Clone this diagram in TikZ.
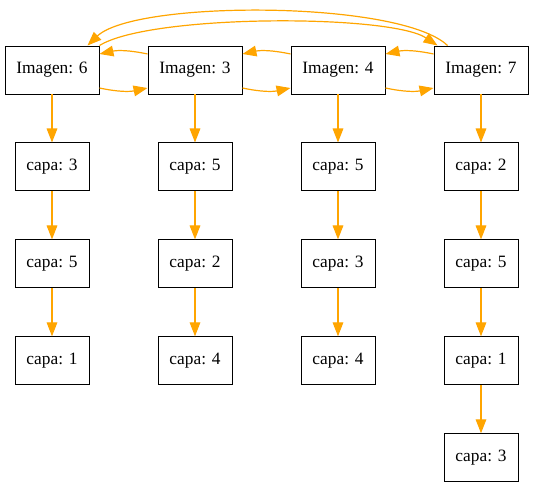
\documentclass[tikz,border=0pt]{standalone}
\usepackage{fontspec}
\setmainfont{Liberation Serif}
\usetikzlibrary{positioning,arrows.meta}
\definecolor{edgeOrange}{RGB}{255,165,0}
\tikzset{
  imgbox/.style={draw,line width=0.7pt,minimum width=70.5pt,minimum height=36pt,inner sep=0pt,font=\fontsize{13}{15}\selectfont},
  capabox/.style={draw,line width=0.7pt,minimum width=55.5pt,minimum height=36pt,inner sep=0pt,font=\fontsize{13}{15}\selectfont},
  link/.style={draw=edgeOrange,line width=0.9pt,-{Triangle[length=10.5pt,width=8pt]}}
}

\begin{document}
\begin{tikzpicture}[x=0.75pt,y=-0.75pt,node distance=36pt]
    \useasboundingbox (0,0) rectangle (533,484);
    % top row
    \node[imgbox] (img6) at (52,70) {Imagen: 6};
    \node[imgbox] (img3) at (195,70) {Imagen: 3};
    \node[imgbox] (img4) at (338,70) {Imagen: 4};
    \node[imgbox] (img7) at (481,70) {Imagen: 7};
    % layers under each image
    \node[capabox, below=of img6] (c6a) {capa: 3};
    \node[capabox, below=of c6a] (c6b) {capa: 5};
    \node[capabox, below=of c6b] (c6c) {capa: 1};
    \node[capabox, below=of img3] (c3a) {capa: 5};
    \node[capabox, below=of c3a] (c3b) {capa: 2};
    \node[capabox, below=of c3b] (c3c) {capa: 4};
    \node[capabox, below=of img4] (c4a) {capa: 5};
    \node[capabox, below=of c4a] (c4b) {capa: 3};
    \node[capabox, below=of c4b] (c4c) {capa: 4};
    \node[capabox, below=of img7] (c7a) {capa: 2};
    \node[capabox, below=of c7a] (c7b) {capa: 5};
    \node[capabox, below=of c7b] (c7c) {capa: 1};
    \node[capabox, below=of c7c] (c7d) {capa: 3};
    % next / previous links
    \foreach \a/\b in {img6/img3,img3/img4,img4/img7}{
        \draw[link] ([yshift=-13.5pt]\a.east) to[bend right=12] ([yshift=-13.5pt]\b.west);
        \draw[link] ([yshift=12pt]\b.west) to[bend right=12] ([yshift=12pt]\a.east);
    }
    \draw[link] ([xshift=10.5pt]img7.north west) .. controls (400,0) and (135,0) .. ([xshift=-9pt]img6.north east);
    \draw[link] (img6.north east) .. controls (150,14) and (390,14) .. ([xshift=3pt]img7.north west);
    % layer chains
    \foreach \a/\b in {img6/c6a,c6a/c6b,c6b/c6c,img3/c3a,c3a/c3b,c3b/c3c,img4/c4a,c4a/c4b,c4b/c4c,img7/c7a,c7a/c7b,c7b/c7c,c7c/c7d}
        \draw[link] (\a) -- (\b);
\end{tikzpicture}
\end{document}
